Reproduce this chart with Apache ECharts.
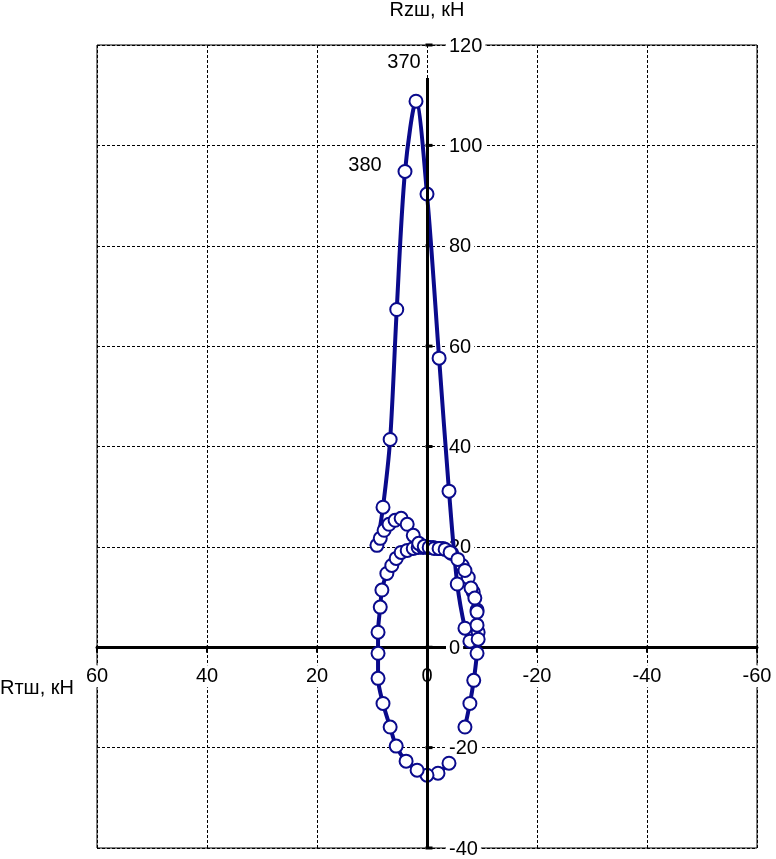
<!DOCTYPE html>
<html>
<head>
<meta charset="utf-8">
<script src="https://cdn.jsdelivr.net/npm/echarts@6/dist/echarts.min.js"></script>
<style>
html,body{margin:0;padding:0;background:#fff;}
#chart{width:776px;height:859px;}
</style>
</head>
<body>
<div id="chart"></div>
<script>
// Rтш (horizontal component), kN
const rtValues = [
  -4.0, -2.0, 0.0, 1.8, 3.8, 5.6, 6.7, 8.0, 8.9, 8.9,
  8.9, 8.5, 8.2, 7.3, 6.4, 5.6, 4.7, 3.6, 2.5, 1.6,
  0.7, -0.2, -1.1, -2.0, -2.9, -4.5, -6.4, -7.5, -8.4, -9.1,
  -9.3, -7.8, -6.9, -5.5, -4.0, -2.2, 0.0, 2.0, 4.0, 5.5,
  6.7, 8.0, 9.1, 8.5, 7.8, 6.9, 5.8, 4.7, 3.6, 2.5,
  1.5, 0.5, -0.4, -1.3, -2.2, -3.3, -4.2, -5.6, -6.9, -8.0,
  -8.7, -9.1, -9.1, -9.3, -9.1, -8.5, -7.8, -6.9
];
// Rzш (vertical component), kN
const rzValues = [
  -23.1, -25.1, -25.5, -24.5, -22.7, -19.7, -15.9, -11.2, -6.2, -1.2,
  3.0, 8.0, 11.4, 14.7, 16.3, 17.7, 18.9, 19.3, 19.7, 19.9,
  19.9, 19.9, 19.9, 19.7, 19.7, 18.7, 16.3, 13.9, 11.0, 7.4,
  3.0, 1.2, 3.8, 12.6, 31.1, 57.6, 90.3, 108.8, 94.8, 67.3,
  41.4, 27.9, 20.3, 21.7, 23.3, 24.5, 25.3, 25.7, 24.5, 22.3,
  20.7, 20.1, 19.9, 19.7, 19.7, 19.5, 18.9, 17.5, 15.3, 11.8,
  9.8, 7.0, 4.4, 1.6, -1.2, -6.6, -11.2, -15.9
];
// crank-angle labels shown on the curve
const angleLabelIndex = [37, 38];
const angleLabelText = ['370', '380'];
// tick labels
const xTickValues = [60, 40, 20, 0, -20, -40, -60];
const yTickValues = [120, 100, 80, 60, 40, 20, 0, -20, -40];
// axis ranges
const xRange = [-60, 60];
const yRange = [-40, 120];
const tickStep = 20;
const yAxisLineSpan = [-40, 113.4];

const FONT = 'Liberation Sans, Arial, sans-serif';
const NAVY = '#0a0a8c';

const labelOffsets = [[-12, -39], [-40, -6]];
const seriesData = rtValues.map((x, i) => {
  const k = angleLabelIndex.indexOf(i);
  if (k >= 0) {
    return {
      value: [x, rzValues[i]],
      label: {
        show: true, formatter: angleLabelText[k], position: 'inside',
        offset: labelOffsets[k], color: '#000', fontSize: 20, fontFamily: FONT
      }
    };
  }
  return [x, rzValues[i]];
});

const chart = echarts.init(document.getElementById('chart'), null, {renderer: 'canvas'});
const splitStyle = {show: true, lineStyle: {color: '#000', width: 1, type: [3, 2]}};
chart.setOption({
  animation: false,
  backgroundColor: '#fff',
  grid: {
    left: 97, right: 19, top: 45, bottom: 11,
    show: true, borderColor: '#000', borderWidth: 1,
    outerBoundsMode: 'none'
  },
  xAxis: {
    type: 'value', min: xRange[0], max: xRange[1], interval: tickStep, inverse: true,
    axisLine: {show: true, onZero: true, lineStyle: {color: '#000', width: 3}},
    axisTick: {show: false},
    axisLabel: {show: false},
    splitLine: splitStyle
  },
  yAxis: {
    type: 'value', min: yRange[0], max: yRange[1], interval: tickStep,
    axisLine: {show: false},
    axisTick: {show: false},
    axisLabel: {show: false},
    splitLine: splitStyle
  },
  graphic: [
    {type: 'text', x: 427, y: 10, z: 10,
     style: {text: 'Rzш, кН', fontSize: 20, fontFamily: FONT, fill: '#000', align: 'center', verticalAlign: 'middle'}},
    {type: 'text', x: 0, y: 688, z: 10,
     style: {text: 'Rтш, кН', fontSize: 20, fontFamily: FONT, fill: '#000', align: 'left', verticalAlign: 'middle'}}
  ],
  series: [
    {
      // vertical axis line through zero
      type: 'line', data: [], z: 1, silent: true,
      markLine: {
        silent: true, symbol: 'none', animation: false,
        label: {show: false},
        lineStyle: {color: '#000', width: 3, type: 'solid'},
        emphasis: {disabled: true},
        data: [[{coord: [0, yAxisLineSpan[0]]}, {coord: [0, yAxisLineSpan[1]]}]]
      }
    },
    {
      // x tick marks + labels along the zero line
      type: 'scatter', z: 2, silent: true,
      data: xTickValues.map(v => [v, 0]),
      symbol: 'rect', symbolSize: [2, 7], symbolOffset: [0, 2],
      itemStyle: {color: '#000', opacity: 1},
      label: {
        show: true, position: 'inside', offset: [0, 27],
        formatter: p => String(p.value[0]),
        color: '#000', fontSize: 20, fontFamily: FONT,
        backgroundColor: '#fff', padding: [1, 2]
      },
      emphasis: {disabled: true}
    },
    {
      // y tick marks + labels right of the vertical axis
      type: 'scatter', z: 2, silent: true,
      data: yTickValues.map(v => [0, v]),
      symbol: 'rect', symbolSize: [7, 3], symbolOffset: [2, 0],
      itemStyle: {color: '#000', opacity: 1},
      label: {
        show: true, position: 'inside', offset: [17, 1], align: 'left',
        formatter: p => String(p.value[1]),
        color: '#000', fontSize: 20, fontFamily: FONT,
        backgroundColor: '#fff', padding: [0, 3]
      },
      emphasis: {disabled: true}
    },
    {
      type: 'line', z: 3, data: seriesData, smooth: 0.3,
      symbol: 'circle', symbolSize: 13, showAllSymbol: true,
      lineStyle: {color: NAVY, width: 4},
      itemStyle: {color: '#fff', borderColor: NAVY, borderWidth: 2},
      emphasis: {disabled: true}
    }
  ]
});
</script>
</body>
</html>
